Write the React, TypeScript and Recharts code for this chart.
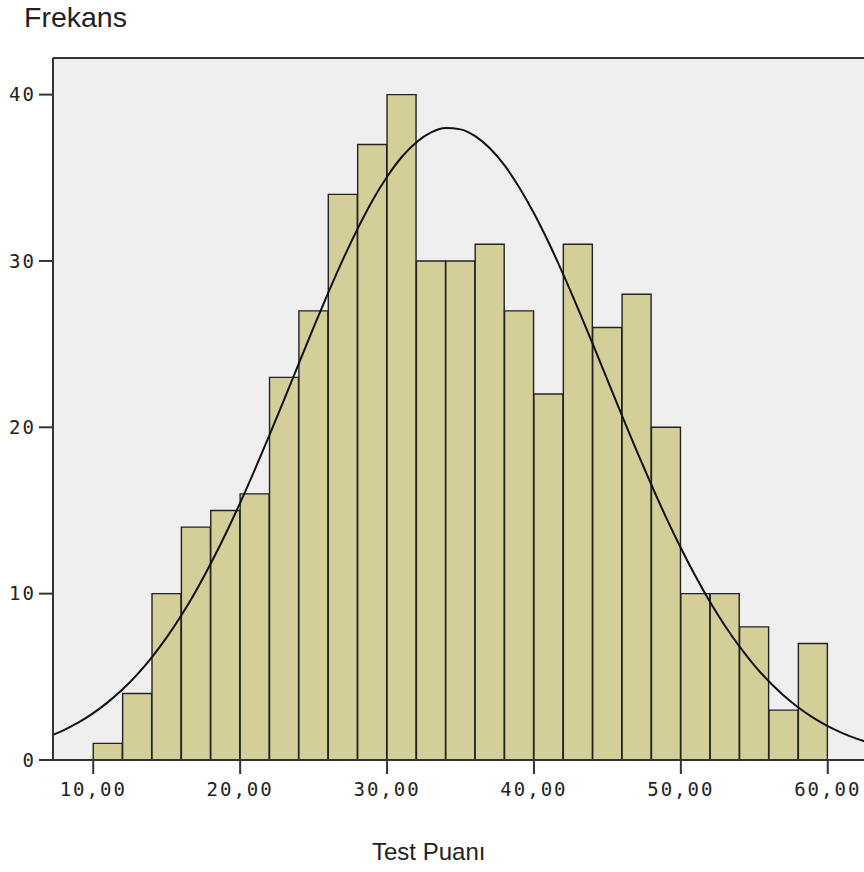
import React from "react";
import {
  ComposedChart,
  Bar,
  Line,
  XAxis,
  YAxis,
  CartesianGrid,
  ReferenceLine,
} from "recharts";

// histogram bins (width 2), midpoints and frequencies
const BIN_MIDS = [11, 13, 15, 17, 19, 21, 23, 25, 27, 29, 31, 33, 35, 37, 39, 41, 43, 45, 47, 49, 51, 53, 55, 57, 59];
const COUNTS = [1, 4, 10, 14, 15, 16, 23, 27, 34, 37, 40, 30, 30, 31, 27, 22, 31, 26, 28, 20, 10, 10, 8, 3, 7];

// normal curve
const CURVE_X = [7.26, 8, 9, 10, 11, 12, 13, 14, 15, 16, 17, 18, 19, 20, 21, 22, 23, 24, 25, 26, 27, 28, 29, 30, 31, 32, 33, 34, 35, 36, 37, 38, 39, 40, 41, 42, 43, 44, 45, 46, 47, 48, 49, 50, 51, 52, 53, 54, 55, 56, 57, 58, 59, 60, 61, 62, 62.74];
const CURVE_Y = [1.52, 1.8, 2.26, 2.82, 3.48, 4.25, 5.15, 6.19, 7.37, 8.7, 10.18, 11.81, 13.57, 15.46, 17.46, 19.54, 21.68, 23.85, 26.0, 28.09, 30.09, 31.94, 33.62, 35.06, 36.25, 37.14, 37.73, 37.99, 37.91, 37.5, 36.77, 35.74, 34.42, 32.87, 31.11, 29.18, 27.14, 25.02, 22.85, 20.69, 18.57, 16.53, 14.57, 12.74, 11.04, 9.48, 8.07, 6.81, 5.69, 4.72, 3.88, 3.16, 2.55, 2.04, 1.62, 1.27, 1.06];

const X_TICKS = [10, 20, 30, 40, 50, 60];
const Y_TICKS = [0, 10, 20, 30, 40];
const X_DOMAIN = [7.26, 62.74];
const Y_MAX = 42.2;

const bins = BIN_MIDS.map((x, i) => ({ x, count: COUNTS[i] }));
const curve = CURVE_X.map((x, i) => ({ x, y: CURVE_Y[i] }));

const AXIS_COLOR = "#333";
const tickFont = {
  fontFamily: "DejaVu Sans Mono",
  fontSize: 19,
  fill: "#222",
  letterSpacing: 2,
};

export default function App() {
  return (
    <div
      style={{
        position: "absolute",
        left: 0,
        top: 0,
        width: 864,
        height: 872,
        overflow: "hidden",
        background: "#fff",
        fontFamily: "Liberation Sans, Arial, sans-serif",
      }}
    >
      <div style={{ position: "absolute", left: 24, top: 3, fontSize: 28.5, lineHeight: 1, color: "#222" }}>
        Frekans
      </div>
      <div style={{ position: "absolute", left: 372, top: 840, fontSize: 24, lineHeight: 1, color: "#222" }}>
        Test Puanı
      </div>
      <ComposedChart
        width={880}
        height={872}
        data={bins}
        barCategoryGap={0}
        barGap={0}
        margin={{ top: 58, right: 12, bottom: 72, left: 0 }}
      >
        <CartesianGrid horizontal={false} vertical={false} fill="#EFEFEF" />
        <XAxis
          type="number"
          dataKey="x"
          domain={X_DOMAIN}
          allowDataOverflow
          ticks={X_TICKS}
          tickFormatter={(v: number) => v.toFixed(2).replace(".", ",")}
          tick={tickFont}
          tickSize={14}
          tickMargin={9}
          tickLine={{ stroke: AXIS_COLOR, strokeWidth: 2 }}
          axisLine={{ stroke: AXIS_COLOR, strokeWidth: 2 }}
          height={40}
        />
        {/* separate hidden x axis for the curve so it doesn't shrink the bar band */}
        <XAxis xAxisId="curve" type="number" dataKey="x" domain={X_DOMAIN} allowDataOverflow hide />
        <YAxis
          type="number"
          domain={[0, Y_MAX]}
          allowDataOverflow
          ticks={Y_TICKS}
          tick={tickFont}
          tickSize={14}
          tickMargin={3}
          tickLine={{ stroke: AXIS_COLOR, strokeWidth: 2 }}
          axisLine={{ stroke: AXIS_COLOR, strokeWidth: 2 }}
          width={53}
        />
        <ReferenceLine y={Y_MAX} stroke={AXIS_COLOR} strokeWidth={2} />
        <Bar
          dataKey="count"
          fill="#D4CF98"
          stroke="#222"
          strokeWidth={1.4}
          isAnimationActive={false}
        />
        <Line
          xAxisId="curve"
          data={curve}
          dataKey="y"
          type="monotone"
          stroke="#111"
          strokeWidth={2}
          dot={false}
          activeDot={false}
          isAnimationActive={false}
        />
      </ComposedChart>
    </div>
  );
}
